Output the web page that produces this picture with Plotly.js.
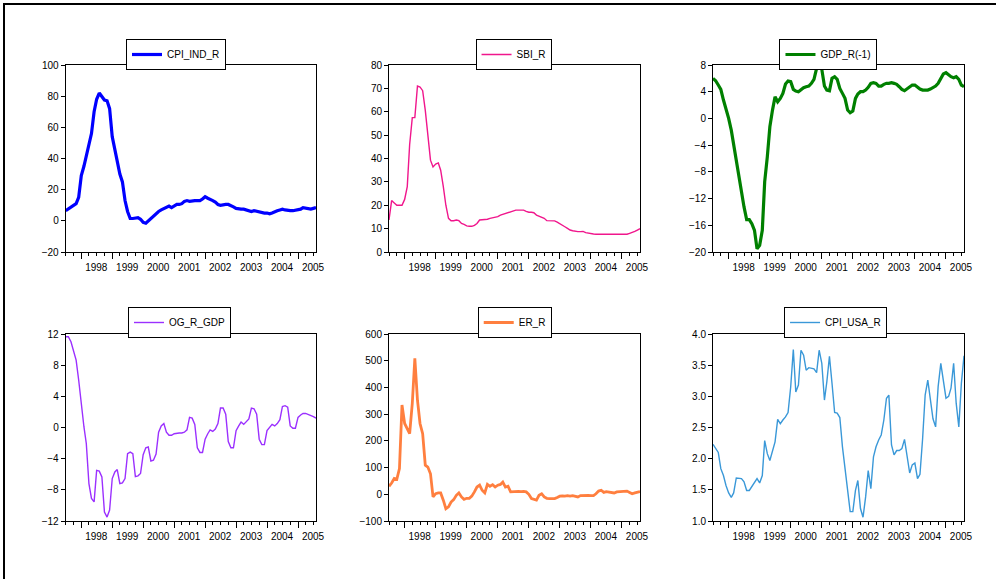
<!DOCTYPE html>
<html>
<head>
<meta charset="utf-8">
<script src="https://cdn.plot.ly/plotly-3.0.1.min.js"></script>
<style>
  html, body { margin: 0; padding: 0; background: #fff; }
  #chart { width: 996px; height: 579px; }
</style>
</head>
<body>
<div id="chart"></div>
<script>
// ---- data (monthly, starting 1997M7) ----
const START_YEAR = 1997;
const START_MONTH = 7;
const yearLabels = ['1998','1999','2000','2001','2002','2003','2004','2005'];

const cpiInd = [6.5,7.5,8.5,9.5,11,15,29,35,42,49,
  56,70,78,82,80,77.5,77,72,54,46,
  37,30,25,13,6,1.5,1.5,1.5,2,1,
  -1,-1.5,0,1.5,3,4.5,6,7,8,9,
  9.5,8.5,9.5,10.5,10.5,11,12.5,13,12.5,13,
  13,13,13,14,15.5,14.5,13.5,13,12,10.5,
  10,10.5,10.5,10.5,10,9,8,7.5,7.5,7.5,
  7,6.5,6,6.5,6,6,5.5,5,5,4.5,
  5,6,6.5,7,7.5,7,6.5,6.5,6.5,7,
  7,7.5,8.5,8,7.5,7.5,8,8.5];

const sbi = [13.7,22,21,20,20,20,22.5,28,46,57.5,
  57.5,71,70.6,69,60.6,50.7,39.3,36.4,37.6,38.1,
  35,28,20,14.4,13.4,13.4,13.7,13.4,12.2,11.8,
  11.2,11,11,11.4,12.2,13.7,13.7,13.7,14,14.4,
  14.7,14.7,15.1,15.8,16.1,16.5,16.8,17.2,17.6,17.9,
  17.9,17.9,17.9,17.4,17,17,16.8,15.8,15.4,15.1,
  14.4,13.4,13.3,13.3,13.3,12.8,12.2,11.5,10.8,10.1,
  9.4,9.1,8.8,8.7,8.7,8.8,8.3,8.0,7.7,7.7,
  7.6,7.6,7.6,7.6,7.6,7.6,7.6,7.6,7.6,7.6,
  7.6,7.6,7.6,8.0,8.3,8.8,9.4,10];

const gdpLag = [6,5.65,5,4.35,2.75,1.5,0,-1.75,-4,-6.5,
  -9,-11.25,-13.25,-15.15,-15.15,-15.75,-16.75,-19.5,-19,-16.75,
  -9.5,-5.75,-1.25,1.25,3.25,2.5,3,3.75,5.15,5.6,
  5.5,4.35,4.1,4,4.35,4.6,4.75,4.85,5.25,5.85,
  7.5,7.85,7.35,4.85,4.25,4.15,6,6.25,5.85,4.5,
  3.75,3,1.25,0.85,1.1,3,3.65,4,4,4.25,
  4.65,5.25,5.35,5.25,4.85,4.85,5.1,5.25,5.25,5.35,
  5.25,5.1,4.75,4.35,4.15,4.4,4.75,5,5,4.65,
  4.4,4.25,4.25,4.25,4.4,4.6,4.85,5.25,6,6.65,
  6.85,6.5,6.25,6.1,6.25,5.85,5,4.75];

const ogGdp = [11.65,11.65,11,9.9,8.65,6.1,2.65,0.1,-2.05,-7.2,
  -9.1,-9.55,-5.5,-5.6,-6.35,-10.85,-11.5,-10.6,-6.55,-5.7,
  -5.4,-7.2,-7.1,-6.55,-3.35,-3.15,-3.35,-6.3,-6.2,-5.9,
  -3.5,-2.6,-2.5,-4.3,-4.2,-3.4,-0.6,0.2,0.5,-0.6,
  -1,-1,-0.8,-0.7,-0.7,-0.7,-0.6,-0.3,1.3,1.2,
  0.4,-2.6,-3.2,-3.2,-1.5,-0.8,-0.3,-0.5,-0.2,0.5,
  2.5,2.5,1.7,-1.8,-2.6,-2.6,-0.4,0.2,0.7,0.4,
  0.7,1.1,2.5,2.4,1.7,-1.5,-2.2,-2.2,-0.4,0.1,
  0.4,0.2,0.5,1,2.7,2.8,2.6,0.2,-0.1,-0.1,
  1.3,1.6,1.8,1.8,1.7,1.6,1.4,1.2];

const er = [30,42,59,56,96,334,265,246,227,340,
  509,352,265,227,109,102,77,-10,2.5,5,
  5,-22,-54,-47,-29,-20,-4,5,-10,-19,
  -15,-15,-7,9,27,34,15,5,37,30,
  36,27,34,37,46,27,30,9,10,12,
  11,10,11,9,0,-16,-20,-22,-4,2,
  -10,-15,-16,-16,-16,-12,-7,-6,-7,-5,
  -7,-5,-7,-10,-5,-4,-4,-4,-5,-5,
  2,12,15,7,10,9,7,5,9,10,
  10,12,12,7,2,5,7,10];

const cpiUsa = [2.23,2.16,2.1,1.84,1.73,1.57,1.45,1.38,1.45,1.69,
  1.69,1.68,1.63,1.49,1.49,1.55,1.61,1.68,1.61,1.73,
  2.29,2.08,1.97,2.14,2.27,2.63,2.56,2.62,2.67,2.74,
  3.15,3.75,3.07,3.18,3.74,3.66,3.42,3.46,3.45,3.44,
  3.38,3.74,3.53,2.94,3.23,3.64,3.21,2.74,2.73,2.66,
  2.19,1.87,1.49,1.15,1.15,1.49,1.65,1.2,1.06,1.39,
  1.81,1.52,2.03,2.19,2.3,2.38,2.62,2.97,3.02,2.22,
  2.06,2.13,2.13,2.16,2.31,2.03,1.77,1.9,1.93,1.68,
  1.75,2.32,3.02,3.26,2.94,2.64,2.51,3.16,3.53,3.26,
  2.97,3.0,3.13,3.53,2.89,2.51,3.21,3.65];

// ---- helpers ----
function monthDates(n) {
  const out = [];
  for (let i = 0; i < n; i++) {
    const m0 = (START_MONTH - 1) + i;
    const y = START_YEAR + Math.floor(m0 / 12);
    const m = (m0 % 12) + 1;
    out.push(y + '-' + String(m).padStart(2, '0') + '-01');
  }
  return out;
}
const dates = monthDates(cpiInd.length);
const xRange = [dates[0], dates[dates.length - 1]];
const yearStarts = yearLabels.map(y => y + '-01-01');

const FONT = 'Liberation Sans, Arial, sans-serif';
const FS = 10;

const panels = [
  {name: 'CPI_IND_R', y: cpiInd, color: '#0000FF', width: 3.2, range: [-20, 100], dtick: 20, fmt: '', col: 0, row: 0, lx: 0.1767},
  {name: 'SBI_R', y: sbi, color: '#F0168C', width: 1.4, range: [0, 80], dtick: 10, fmt: '', col: 1, row: 0, lx: 0.5156},
  {name: 'GDP_R(-1)', y: gdpLag, color: '#008000', width: 3.2, range: [-20, 8], dtick: 4, fmt: '', col: 2, row: 0, lx: 0.8318},
  {name: 'OG_R_GDP', y: ogGdp, color: '#9B30FF', width: 1.4, range: [-12, 12], dtick: 4, fmt: '', col: 0, row: 1, lx: 0.1802},
  {name: 'ER_R', y: er, color: '#FF7F3F', width: 2.8, range: [-100, 600], dtick: 100, fmt: '', col: 1, row: 1, lx: 0.5168},
  {name: 'CPI_USA_R', y: cpiUsa, color: '#3A98D8', width: 1.4, range: [1.0, 4.0], dtick: 0.5, fmt: '.1f', col: 2, row: 1, lx: 0.8389}
];

const W = 996, H = 579;
const colX = [[65.7, 316], [389, 640], [713, 964]];
const rowY = [[65, 252], [334, 521]];
const legTop = [39, 307];

const traces = [];
const layout = {
  width: W, height: H,
  margin: {l: 0, r: 0, t: 0, b: 0},
  paper_bgcolor: '#fff', plot_bgcolor: '#fff',
  font: {family: FONT, size: FS, color: '#000'},
  showlegend: true,
  shapes: [{
    type: 'rect', xref: 'paper', yref: 'paper',
    x0: 4 / W, x1: 1.02, y0: -0.02, y1: 1 - 4 / H,
    line: {color: '#000', width: 2}, fillcolor: 'rgba(0,0,0,0)'
  }]
};

panels.forEach((p, k) => {
  const idx = k === 0 ? '' : String(k + 1);
  const xa = 'xaxis' + idx, ya = 'yaxis' + idx;
  const lg = 'legend' + idx;
  traces.push({
    type: 'scatter', mode: 'lines', name: p.name,
    x: dates.slice(0, p.y.length), y: p.y,
    xaxis: 'x' + idx, yaxis: 'y' + idx,
    legend: lg,
    line: {color: p.color, width: p.width},
    hoverinfo: 'skip'
  });
  const cx = colX[p.col], ry = rowY[p.row];
  layout[xa] = {
    type: 'date',
    domain: [cx[0] / W, cx[1] / W],
    range: xRange,
    anchor: 'y' + idx,
    tickmode: 'array', tickvals: yearStarts, ticktext: yearLabels,
    ticks: 'outside', ticklen: 6, tickcolor: '#000', tickwidth: 1,
    ticklabelshift: 15,
    tickfont: {family: FONT, size: FS, color: '#000'},
    minor: {dtick: 'M3', tick0: '1998-01-01', ticks: 'outside', ticklen: 3, tickcolor: '#000', showgrid: false},
    showline: true, linecolor: '#000', linewidth: 1, mirror: true,
    showgrid: false, zeroline: false, fixedrange: true
  };
  layout[ya] = {
    domain: [1 - ry[1] / H, 1 - ry[0] / H],
    range: p.range, dtick: p.dtick, tick0: p.range[0],
    tickformat: p.fmt,
    anchor: 'x' + idx,
    ticks: 'outside', ticklen: 4, tickcolor: '#000',
    tickfont: {family: FONT, size: FS, color: '#000'},
    showline: true, linecolor: '#000', linewidth: 1, mirror: true,
    showgrid: false, zeroline: false, fixedrange: true
  };
  layout[lg] = {
    x: p.lx, y: 1 - legTop[p.row] / H,
    xanchor: 'center', yanchor: 'top',
    xref: 'paper', yref: 'paper',
    bgcolor: '#fff', bordercolor: '#000', borderwidth: 1,
    font: {family: FONT, size: FS, color: '#000'},
    itemwidth: 30,
    tracegroupgap: 0
  };
});

Plotly.newPlot('chart', traces, layout, {displayModeBar: false, staticPlot: true});
</script>
</body>
</html>
